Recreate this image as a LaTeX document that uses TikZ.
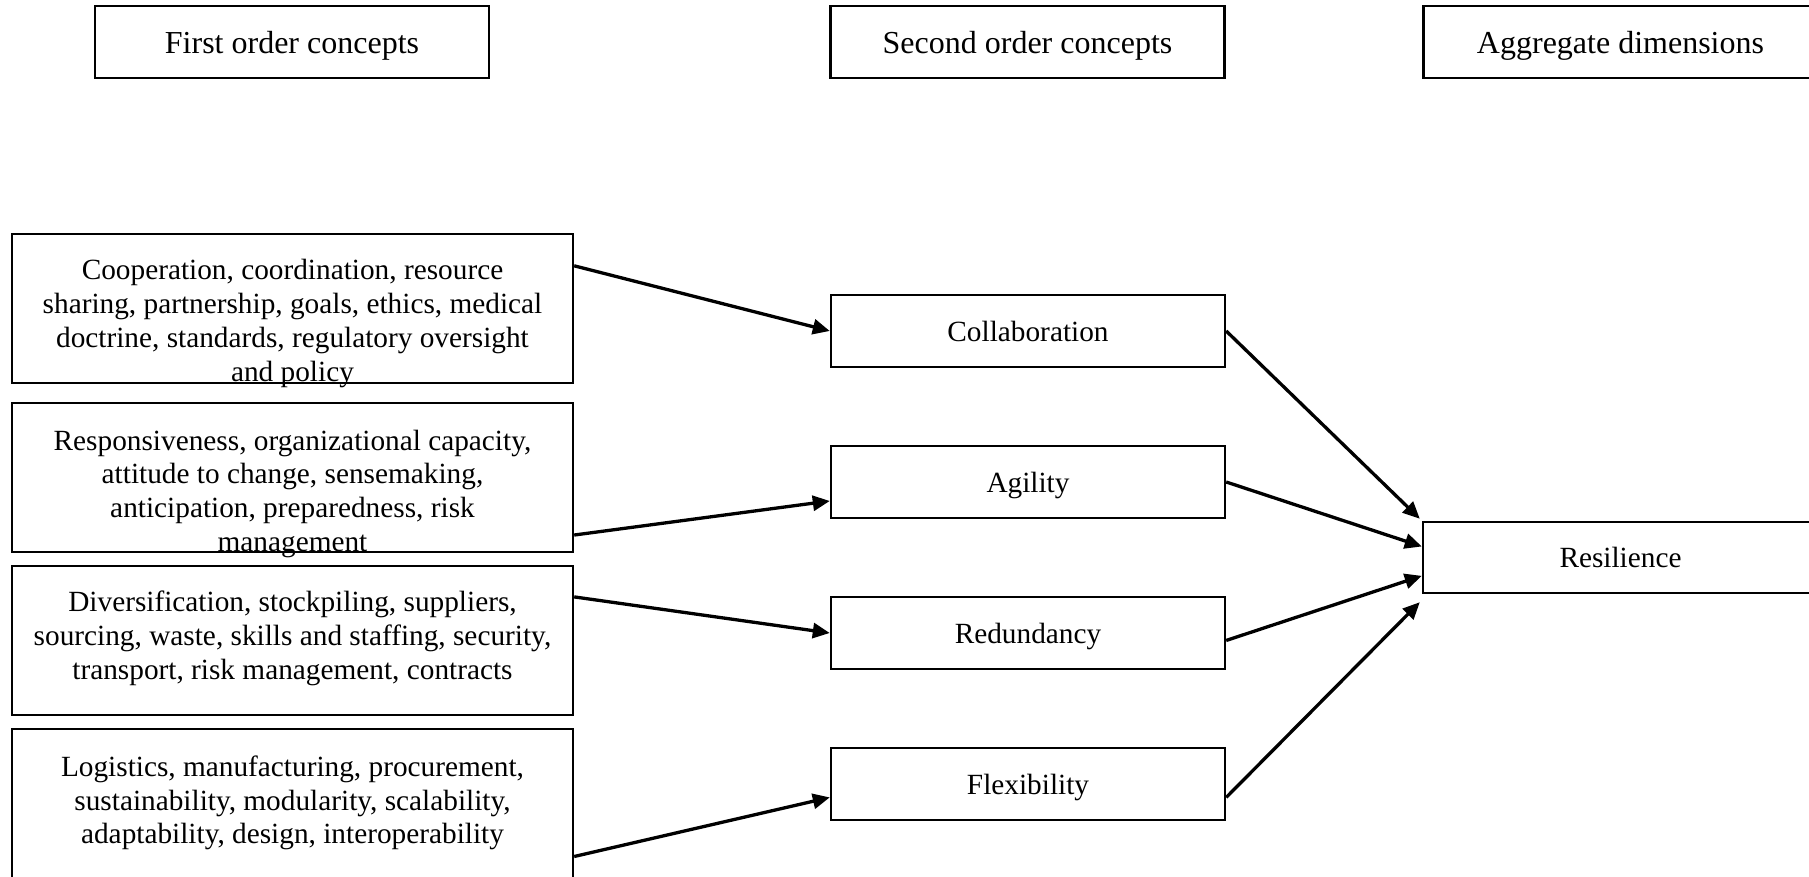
\documentclass[tikz,border=0pt]{standalone}
\usepackage{fontspec}
\setmainfont{Liberation Serif}
\usetikzlibrary{arrows.meta,calc}
\tikzset{
  hdr/.style={draw, line width=2.4pt, minimum width=394pt, minimum height=72pt, inner sep=0pt,
    font=\fontsize{32}{36.8}\selectfont, text height=23pt, text depth=0pt},
  cbox/.style={draw, line width=2.4pt, minimum width=394pt, minimum height=72pt, inner sep=0pt,
    font=\fontsize{29.3}{33.7}\selectfont, text height=20pt, text depth=0pt},
  lbox/.style={draw, line width=2.4pt, minimum width=561pt, minimum height=149pt, inner sep=0pt},
  ltext/.style={anchor=north, inner sep=0pt, align=center, font=\fontsize{29.3}{33.7}\selectfont},
  arr/.style={line width=3.3pt, -{Triangle[length=17pt,width=15pt]}}
}
\begin{document}
\begin{tikzpicture}[x=1pt,y=-1pt]
\useasboundingbox (0,0) rectangle (1809,877);
\fill[white] (0,0) rectangle (1809,877);
\clip (0,0) rectangle (1809,877);
% headers
\node[hdr] (h1) at (292,42) {First order concepts};
\node[hdr] (h2) at (1027.5,42) {Second order concepts};
\node[hdr] (h3) at (1620.5,42) {Aggregate dimensions};
% first order boxes
\node[lbox] (b1) at (292.5,308.5) {};
\node[lbox] (b2) at (292.5,477.5) {};
\node[lbox] (b3) at (292.5,640.5) {};
\node[lbox] (b4) at (292.5,803.5) {};
\node[ltext] (t1) at ($(b1.north)+(0,23.4)$) {\strut Cooperation, coordination, resource\\sharing, partnership, goals, ethics, medical\\doctrine, standards, regulatory oversight\\and policy};
\node[ltext] (t2) at ($(b2.north)+(0,24.5)$) {\strut Responsiveness, organizational capacity,\\attitude to change, sensemaking,\\anticipation, preparedness, risk\\management};
\node[ltext] (t3) at ($(b3.north)+(0,23.4)$) {\strut Diversification, stockpiling, suppliers,\\sourcing, waste, skills and staffing, security,\\transport, risk management, contracts};
\node[ltext] (t4) at ($(b4.north)+(0,25)$) {\strut Logistics, manufacturing, procurement,\\sustainability, modularity, scalability,\\adaptability, design, interoperability};
% second order
\node[cbox] (c1) at (1028,331) {Collaboration};
\node[cbox] (c2) at (1028,482) {Agility};
\node[cbox] (c3) at (1028,633) {Redundancy};
\node[cbox] (c4) at (1028,784) {Flexibility};
% aggregate
\node[cbox, minimum width=395pt, minimum height=71pt] (res) at (1620.5,557.5) {Resilience};
% arrows
\draw[arr] ($(b1.north east)!0.218!(b1.south east)$) -- (c1.west);
\draw[arr] ($(b2.north east)!0.88!(b2.south east)$) -- ($(c2.north west)!0.755!(c2.south west)$);
\draw[arr] ($(b3.north east)!0.212!(b3.south east)$) -- (c3.west);
\draw[arr] ($(b4.north east)!0.85!(b4.south east)$) -- ($(c4.north west)!0.68!(c4.south west)$);
\draw[arr] (c1.east) -- ([xshift=-2pt,yshift=2pt]res.north west);
\draw[arr] (c2.east) -- ($(res.north west)!0.35!(res.south west)$);
\draw[arr] ($(c3.north east)!0.6!(c3.south east)$) -- ($(res.north west)!0.75!(res.south west)$);
\draw[arr] ($(c4.north east)!0.68!(c4.south east)$) -- ([xshift=-2pt,yshift=-8pt]res.south west);
\end{tikzpicture}
\end{document}
